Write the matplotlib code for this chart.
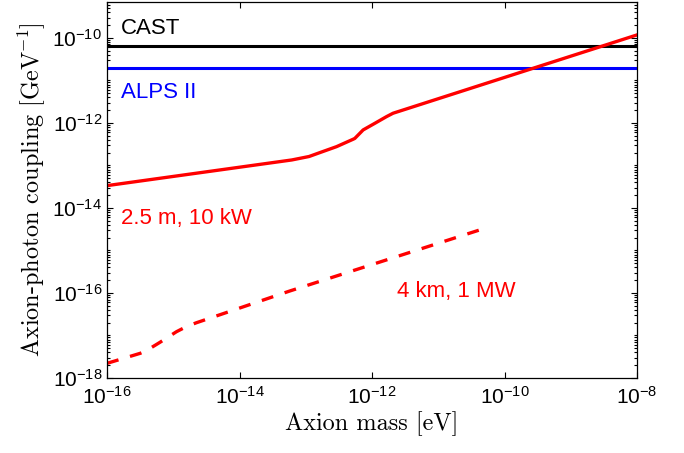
import numpy as np
import matplotlib
matplotlib.use("Agg")
import matplotlib.pyplot as plt
from matplotlib.ticker import FixedLocator, LogLocator, FuncFormatter, NullFormatter

plt.rcParams['mathtext.fontset'] = 'custom'
plt.rcParams['mathtext.rm'] = 'cmr10'
plt.rcParams['mathtext.sf'] = 'Liberation Sans'
plt.rcParams['mathtext.fallback'] = 'cm'
plt.rcParams['axes.unicode_minus'] = True

# ---- data (log10 values) ----
cast_limit = 6.6e-11
alps_limit = 2.0e-11

small_log_mass = [-16.0, -13.21, -12.95, -12.79, -12.535, -12.285, -12.26, -12.134, -11.958, -11.781, -11.682, -8.0]
small_log_g = [-13.475, -12.871, -12.79, -12.70, -12.558, -12.384, -12.365, -12.165, -12.01, -11.852, -11.772, -9.93]

large_log_mass = [-16.0, -15.5, -15.42, -15.2, -14.95, -14.8, -14.65, -13.24, -10.22]
large_log_g = [-17.655, -17.42, -17.37, -17.16, -16.91, -16.79, -16.70, -15.953, -14.44]

x_ticks = [1e-16, 1e-14, 1e-12, 1e-10, 1e-8]
y_ticks = [1e-18, 1e-16, 1e-14, 1e-12, 1e-10]

fig = plt.figure(figsize=(6.84, 4.53), dpi=100)
ax = fig.add_axes([107/684, 75/453, 530/684, 375.5/453])

ax.set_xscale('log')
ax.set_yscale('log')

ax.axhline(cast_limit, color='black', lw=2.2)
ax.axhline(alps_limit, color='#0000ff', lw=2.2)
ax.plot(10**np.array(small_log_mass), 10**np.array(small_log_g), color='#ff0000', lw=2.4,
        solid_joinstyle='round')
ax.plot(10**np.array(large_log_mass), 10**np.array(large_log_g), color='#ff0000', lw=2.4,
        dashes=(3.6, 3.6))

ax.set_xlim(1e-16, 1e-8)
ax.set_ylim(1e-18, 6.8e-10)

fmt = FuncFormatter(lambda v, p: r'$\mathsf{10^{%d}}$' % int(round(np.log10(v))))
ax.xaxis.set_major_locator(FixedLocator(x_ticks))
ax.xaxis.set_major_formatter(fmt)
ax.xaxis.set_minor_locator(FixedLocator([]))
ax.yaxis.set_major_locator(FixedLocator(y_ticks))
ax.yaxis.set_major_formatter(fmt)
ax.yaxis.set_minor_locator(LogLocator(base=10, subs=np.arange(1, 10), numticks=100))
ax.yaxis.set_minor_formatter(NullFormatter())

ax.tick_params(which='both', direction='in', top=True, right=True, labelsize=15, width=0.8)
ax.tick_params(which='major', length=4.5)
ax.tick_params(which='minor', length=2.5)
ax.tick_params(axis='x', pad=6)
for s in ax.spines.values():
    s.set_linewidth(0.9)

ax.set_xlabel('Axion mass [eV]', fontfamily='cmr10', fontsize=17.5, labelpad=2)
ax.set_ylabel('Axion-photon coupling [GeV$^{-1}$]', fontfamily='cmr10', fontsize=17.5, labelpad=3)

tf = dict(fontfamily='Liberation Sans', fontsize=16, ha='left', va='baseline')
ax.text(1.6e-16, 1.24e-10, 'CAST', color='black', **tf)
ax.text(1.6e-16, 3.81e-12, 'ALPS II', color='#0000ff', **tf)
ax.text(1.6e-16, 4.2e-15, '2.5 m, 10 kW', color='#ff0000', **tf)
ax.text(2.4e-12, 7.9e-17, '4 km, 1 MW', color='#ff0000', **tf)

fig.savefig('out.png', dpi=100)
